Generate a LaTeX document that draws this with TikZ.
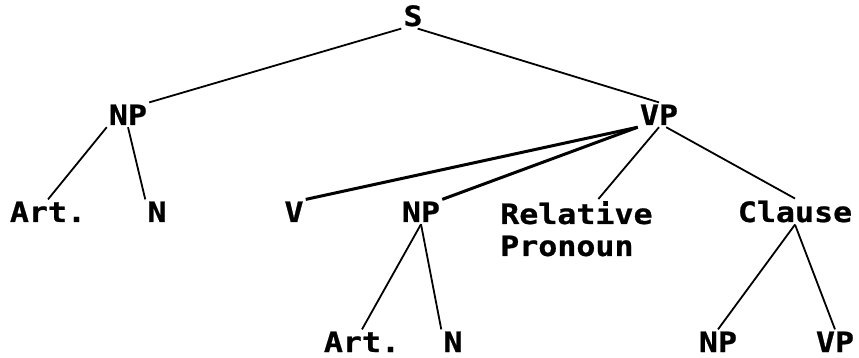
\documentclass[tikz,border=0pt]{standalone}
\usepackage{fontspec}
\usepackage{xcolor}
\usepackage{tikz}
\newfontfamily\dotfont[FakeStretch=1.13,BoldFeatures={FakeBold=0.8}]{DejaVu Sans Mono}

\begin{document}
\begin{tikzpicture}[x=1pt, y=-1pt]
  \tikzstyle{wrd}=[font=\dotfont\bfseries\fontsize{28}{32}\selectfont,inner sep=2pt,anchor=base,text=black]
  \tikzstyle{br}=[line width=1.8pt,draw=black]
  \tikzstyle{hv}=[line width=3pt,draw=black]
  \useasboundingbox (0,0) rectangle (859,358);

  \node[wrd] (s) at (413,26) {S};
  \node[wrd] (np) at (128,125) {NP};
  \node[wrd] (vp) at (659,125) {VP};

  \node[wrd] (art) at (48,222) {Art.};
  \node[wrd] (n) at (157,222) {N};
  \node[wrd] (v) at (294,222) {V};
  \node[wrd] (npb) at (421,222) {NP};
  \node[wrd,anchor=north west,align=left] (rel) at (498,199) {Relative\\Pronoun};
  \node[wrd] (cl) at (795,222) {Clause};

  \node[wrd] (artb) at (362,352) {Art.};
  \node[wrd] (nb) at (453,352) {N};
  \node[wrd] (npc) at (718,352) {NP};
  \node[wrd] (vpc) at (835,352) {VP};

  \draw[br] (s.south west) -- (np.north east);
  \draw[br] (s.-70) -- (vp.north);
  \draw[br] (np.south west) -- (art.north);
  \draw[br] (np.south) -- (n.north west);
  \draw[hv] (vp.south west) -- (v.north east);
  \draw[hv] (vp.south west) -- (npb.north east);
  \draw[br] (vp.south) -- ([xshift=22pt]rel.north);
  \draw[br] (vp.300) -- (cl.north);
  \draw[br] (npb.south) -- (artb.north);
  \draw[br] (npb.south) -- (nb.north west);
  \draw[br] (cl.south) -- (npc.north);
  \draw[br] (cl.south) -- (vpc.north);
\end{tikzpicture}
\end{document}
